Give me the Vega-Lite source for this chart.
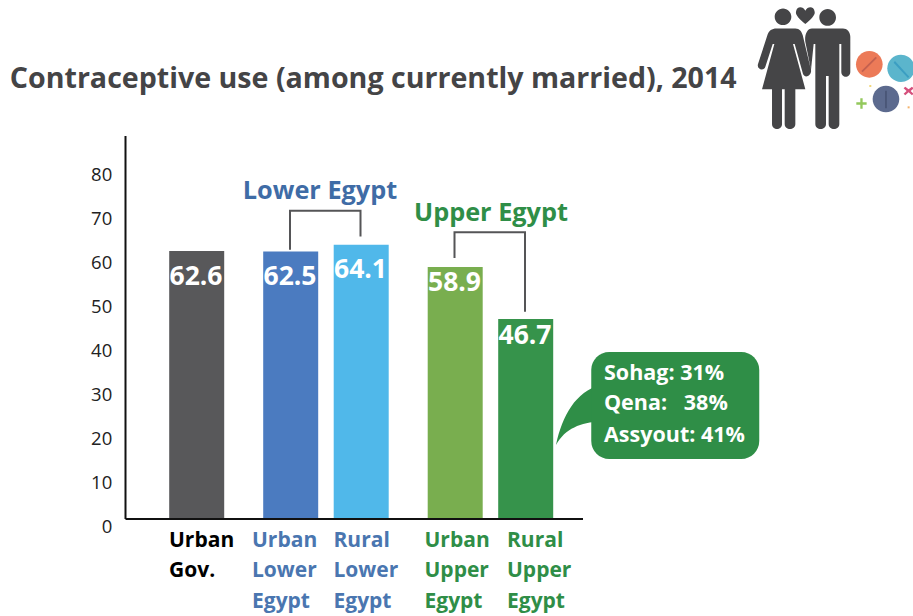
{
  "$schema": "https://vega.github.io/schema/vega-lite/v6.json",
  "width": 799,
  "height": 526,
  "autosize": "none",
  "padding": {"left": 113.75, "right": 0, "top": 0, "bottom": 90},
  "background": "white",
  "config": {"view": {"stroke": null}},
  "title": {
    "text": "Contraceptive use (among currently married), 2014",
    "anchor": "start",
    "frame": "group",
    "dx": -104,
    "dy": 94,
    "offset": 0,
    "font": "Open Sans",
    "fontWeight": 700,
    "fontSize": 28.6,
    "color": "#444446"
  },
  "encoding": {
    "x": {
      "field": "cat",
      "type": "nominal",
      "scale": {
        "type": "band",
        "paddingInner": 0,
        "paddingOuter": 0,
        "domain": ["_0","_1","_2","Urban Gov.","_4","_5","_6","Urban Lower Egypt","_8","_9","Rural Lower Egypt","_11","_12","_13","Urban Upper Egypt","_15","_16","Rural Upper Egypt","_18","_19","_20","_21","_22","_23","_24","_25","_26","_27","_28","_29","_30","_31","_32","_33"]
      },
      "axis": {
        "title": null,
        "domain": false,
        "ticks": false,
        "grid": false,
        "values": ["Urban Gov.","Urban Lower Egypt","Rural Lower Egypt","Urban Upper Egypt","Rural Upper Egypt"],
        "labelExpr": "split(datum.label, ' ')",
        "labelAngle": 0,
        "labelAlign": "left",
        "labelBaseline": "top",
        "labelFont": "Open Sans",
        "labelFontWeight": 700,
        "labelFontSize": 21,
        "labelLineHeight": 30.6,
        "labelPadding": 3,
        "labelOverlap": false,
        "labelBound": false,
        "labelFlush": false,
        "labelOffset": {
          "condition": [
            {"test": "datum.value === 'Urban Gov.'", "value": -27},
            {"test": "datum.value === 'Urban Lower Egypt'", "value": -38},
            {"test": "datum.value === 'Rural Lower Egypt'", "value": -27},
            {"test": "datum.value === 'Urban Upper Egypt'", "value": -30},
            {"test": "datum.value === 'Rural Upper Egypt'", "value": -18}
          ],
          "value": 0
        },
        "labelColor": {
          "condition": [
            {"test": "datum.value === 'Urban Gov.'", "value": "#000000"},
            {"test": "indexof(datum.value, 'Lower') >= 0", "value": "#4a76b0"}
          ],
          "value": "#2f8e47"
        }
      }
    }
  },
  "layer": [
    {
      "resolve": {"scale": {"color": "independent"}},
      "layer": [
        {
          "data": {"values": [
            {"cat": "Urban Gov.", "value": 62.6},
            {"cat": "Urban Lower Egypt", "value": 62.5},
            {"cat": "Rural Lower Egypt", "value": 64.1},
            {"cat": "Urban Upper Egypt", "value": 58.9},
            {"cat": "Rural Upper Egypt", "value": 46.7}
          ]},
          "layer": [
            {
              "mark": {"type": "bar", "size": 55, "xOffset": 0.7},
              "encoding": {
                "y": {"field": "value", "type": "quantitative", "axis": null,
                      "scale": {"domain": [-1.636, 121.26], "nice": false, "zero": false}},
                "color": {
                  "field": "cat", "type": "nominal", "legend": null,
                  "scale": {
                    "domain": ["Urban Gov.","Urban Lower Egypt","Rural Lower Egypt","Urban Upper Egypt","Rural Upper Egypt"],
                    "range": ["#58585a","#4b7bc0","#50b8ea","#79ae4f","#36934b"]
                  }
                }
              }
            },
            {
              "transform": [{"filter": "datum.value > 60"}],
              "mark": {"type": "text", "font": "Open Sans", "fontWeight": 700, "fontSize": 26.5, "color": "white", "baseline": "middle", "dy": 25.5},
              "encoding": {
                "y": {"field": "value", "type": "quantitative"},
                "text": {"field": "value", "type": "quantitative", "format": ".1f"}
              }
            },
            {
              "transform": [{"filter": "datum.value < 60"}],
              "mark": {"type": "text", "font": "Open Sans", "fontWeight": 700, "fontSize": 26.5, "color": "white", "baseline": "middle", "dy": 16.5},
              "encoding": {
                "y": {"field": "value", "type": "quantitative"},
                "text": {"field": "value", "type": "quantitative", "format": ".1f"}
              }
            }
          ]
        },
        {
          "description": "Axis lines",
          "data": {"values": [
            {"cat": "_0", "value": 0, "end": 89.5}
          ]},
          "mark": {"type": "rule", "color": "#111111", "strokeWidth": 2},
          "encoding": {
            "y": {"field": "value", "type": "quantitative"},
            "y2": {"field": "end"}
          }
        },
        {
          "data": {"values": [
            {"cat": "_0", "end": "_19", "value": 0}
          ]},
          "mark": {"type": "rule", "color": "#111111", "strokeWidth": 2, "x2Offset": 11},
          "encoding": {
            "x2": {"field": "end"},
            "y": {"field": "value", "type": "quantitative"}
          }
        },
        {
          "description": "Brackets joining the regional bars",
          "data": {"values": [
            {"group": "Lower", "seq": 1, "cat": "Urban Lower Egypt", "value": 62.9},
            {"group": "Lower", "seq": 2, "cat": "Urban Lower Egypt", "value": 72},
            {"group": "Lower", "seq": 3, "cat": "Rural Lower Egypt", "value": 72},
            {"group": "Lower", "seq": 4, "cat": "Rural Lower Egypt", "value": 66},
            {"group": "Upper", "seq": 1, "cat": "Urban Upper Egypt", "value": 61},
            {"group": "Upper", "seq": 2, "cat": "Urban Upper Egypt", "value": 67},
            {"group": "Upper", "seq": 3, "cat": "Rural Upper Egypt", "value": 67},
            {"group": "Upper", "seq": 4, "cat": "Rural Upper Egypt", "value": 48.4}
          ]},
          "mark": {"type": "line", "color": "#555557", "strokeWidth": 2},
          "encoding": {
            "y": {"field": "value", "type": "quantitative"},
            "detail": {"field": "group"},
            "order": {"field": "seq"}
          }
        },
        {
          "data": {"values": [{"cat": "_8", "value": 76.7, "name": "Lower Egypt"}]},
          "mark": {"type": "text", "font": "Open Sans", "fontWeight": 700, "fontSize": 25.3, "color": "#3f6ca6", "dx": 6.5, "baseline": "middle"},
          "encoding": {
            "y": {"field": "value", "type": "quantitative"},
            "text": {"field": "name"}
          }
        },
        {
          "data": {"values": [{"cat": "_15", "value": 71.5, "name": "Upper Egypt"}]},
          "mark": {"type": "text", "font": "Open Sans", "fontWeight": 700, "fontSize": 25.3, "color": "#2f8e47", "dx": 13, "baseline": "middle"},
          "encoding": {
            "y": {"field": "value", "type": "quantitative"},
            "text": {"field": "name"}
          }
        },
        {
          "description": "Governorate call-out: tail, box, lines of text",
          "data": {"values": [{"cat": "_20", "value": 27.8}]},
          "mark": {"type": "point", "filled": true, "opacity": 1, "size": 4, "color": "#2f8e47", "strokeWidth": 0,
                   "shape": "M5,-15 C-20,-8 -33,15 -39.5,45 C-30,28 -15,23 5,21 Z"},
          "encoding": {"y": {"field": "value", "type": "quantitative"}}
        },
        {
          "data": {"values": [{"cat": "_23", "value": 39, "end": 14}]},
          "mark": {"type": "bar", "size": 168, "xOffset": 9.25, "color": "#2f8e47", "cornerRadius": 18},
          "encoding": {
            "y": {"field": "value", "type": "quantitative"},
            "y2": {"field": "end"}
          }
        },
        {
          "data": {"values": [
            {"cat": "_20", "value": 33.9, "line": "Sohag: 31%"},
            {"cat": "_20", "value": 26.9, "line": "Qena:\u00a0\u00a0\u00a038%"},
            {"cat": "_20", "value": 19.5, "line": "Assyout: 41%"}
          ]},
          "mark": {"type": "text", "font": "Open Sans", "fontWeight": 700, "fontSize": 21.5, "color": "white", "align": "left", "baseline": "middle", "dx": 8.5},
          "encoding": {
            "y": {"field": "value", "type": "quantitative"},
            "text": {"field": "line"}
          }
        },
        {
          "description": "Couple and pills pictogram",
          "data": {"values": [
            {"cat": "_29", "value": 104.9, "icon": "couple"},
            {"cat": "_29", "value": 104.9, "icon": "orange pill"},
            {"cat": "_29", "value": 104.9, "icon": "orange score"},
            {"cat": "_29", "value": 104.9, "icon": "blue pill"},
            {"cat": "_29", "value": 104.9, "icon": "blue score"},
            {"cat": "_29", "value": 104.9, "icon": "slate pill"},
            {"cat": "_29", "value": 104.9, "icon": "slate score"},
            {"cat": "_29", "value": 104.9, "icon": "plus"},
            {"cat": "_29", "value": 104.9, "icon": "cross"},
            {"cat": "_29", "value": 104.9, "icon": "yellow dot"},
            {"cat": "_29", "value": 104.9, "icon": "orange dot"}
          ]},
          "mark": {"type": "point", "filled": true, "opacity": 1, "size": 0.444, "strokeWidth": 0},
          "encoding": {
            "y": {"field": "value", "type": "quantitative"},
            "color": {
              "field": "icon", "type": "nominal", "legend": null,
              "scale": {
                "domain": ["couple","orange pill","orange score","blue pill","blue score","slate pill","slate score","plus","cross","yellow dot","orange dot"],
                "range": ["#454547","#ec7a58","#c4604f","#5bb5cc","#3b9ec2","#5c6a8e","#434e6e","#93c85c","#d5507c","#f2d77a","#f4b26b"]
              }
            },
            "shape": {
              "field": "icon", "type": "nominal", "legend": null,
              "scale": {
                "domain": ["couple","orange pill","orange score","blue pill","blue score","slate pill","slate score","plus","cross","yellow dot","orange dot"],
                "range": [
                  "M-97,-160 a25,25 0 1,0 50,0 a25,25 0 1,0 -50,0 Z M37,-158 a25,25 0 1,0 50,0 a25,25 0 1,0 -50,0 Z M-5,-138 C-25,-155 -35,-165 -33,-175 C-31,-192 -12,-192 -5,-178 C2,-192 21,-192 23,-175 C25,-165 15,-155 -5,-138 Z M-92,-125 L-35,-125 C-22,-125 -16,-115 -13,-105 L12,0 C15,15 -5,28 -12,12 L-37,-78 L-42,-78 L-5,58 L-35,58 L-35,162 C-35,182 -67,182 -67,162 L-67,58 L-75,58 L-75,162 C-75,182 -105,182 -105,162 L-105,58 L-135,58 L-98,-78 L-103,-78 L-125,-10 C-130,5 -152,-2 -147,-18 L-118,-107 C-115,-118 -105,-125 -92,-125 Z M15,-125 L108,-125 C120,-125 130,-115 130,-100 L130,5 C130,25 103,25 103,5 L103,-78 L97,-78 L97,162 C97,182 65,182 65,162 L65,18 L57,18 L57,162 C57,182 25,182 25,162 L25,-78 L20,-78 L12,0 L-5,-85 C-8,-105 0,-125 15,-125 Z",
                  "M147,-17 a40,40 0 1,0 80,0 a40,40 0 1,0 -80,0 Z",
                  "M163,3 L206,-40 L210,-36 L167,7 Z",
                  "M241,-5 a41,41 0 1,0 82,0 a41,41 0 1,0 -82,0 Z",
                  "M260,-22 L264,-27 L307,20 L303,24 Z",
                  "M197,87 a40,40 0 1,0 80,0 a40,40 0 1,0 -80,0 Z",
                  "M235,62 L239,62 L239,115 L235,115 Z",
                  "M160,85 h7 v12 h12 v7 h-12 v12 h-7 v-12 h-12 v-7 h12 Z",
                  "M295,50 L305,58 L315,50 L320,55 L311,63 L320,71 L315,76 L305,67 L295,76 L290,71 L299,63 L290,55 Z",
                  "M187,45 h6 v6 h-6 Z",
                  "M302,109 h6 v6 h-6 Z"
                ]
              }
            }
          }
        }
      ]
    },
    {
      "description": "Value axis, spaced on its own scale",
      "data": {"values": [
        {"cat": "_0", "tick": 0}, {"cat": "_0", "tick": 10}, {"cat": "_0", "tick": 20},
        {"cat": "_0", "tick": 30}, {"cat": "_0", "tick": 40}, {"cat": "_0", "tick": 50},
        {"cat": "_0", "tick": 60}, {"cat": "_0", "tick": 70}, {"cat": "_0", "tick": 80}
      ]},
      "mark": {"type": "tick", "opacity": 0},
      "encoding": {
        "y": {
          "field": "tick", "type": "quantitative",
          "scale": {"domain": [0, 119.55], "nice": false, "zero": false},
          "axis": {
            "orient": "left", "title": null, "domain": false, "ticks": false, "grid": false,
            "values": [0,10,20,30,40,50,60,70,80],
            "labelFont": "Open Sans", "labelFontSize": 18.5, "labelColor": "#222222", "labelPadding": 2, "labelOffset": 0.5, "labelBound": false, "labelFlush": false
          }
        }
      }
    }
  ],
  "resolve": {"scale": {"y": "independent"}, "axis": {"y": "independent"}}
}
